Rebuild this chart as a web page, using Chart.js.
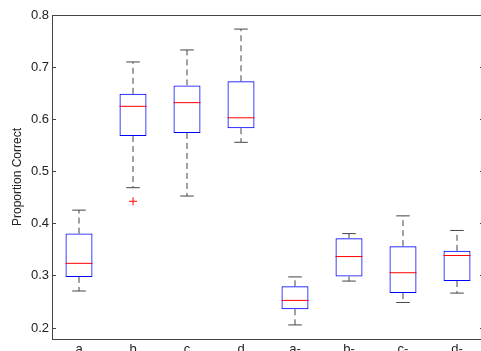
<!DOCTYPE html>
<html>
<head>
<meta charset="utf-8">
<script src="https://cdn.jsdelivr.net/npm/chart.js@4"></script>
<style>
  html, body { margin: 0; padding: 0; background: #fff; overflow: hidden; }
  #wrap { position: absolute; left: 0; top: 0; }
</style>
</head>
<body>
<div id="wrap"><canvas id="box" width="490" height="360"></canvas></div>
<script>
// values
let categories = ['a', 'b', 'c', 'd', 'a-', 'b-', 'c-', 'd-'];
let whiskerLow  = [0.271, 0.469, 0.453, 0.556, 0.206, 0.290, 0.249, 0.267];
let q1          = [0.298, 0.568, 0.574, 0.583, 0.236, 0.299, 0.267, 0.290];
let medians     = [0.324, 0.625, 0.632, 0.603, 0.253, 0.337, 0.306, 0.339];
let q3          = [0.381, 0.649, 0.665, 0.673, 0.280, 0.372, 0.357, 0.348];
let whiskerHigh = [0.426, 0.710, 0.733, 0.773, 0.298, 0.381, 0.415, 0.387];
let outlierCats = ['b'];
let outlierVals = [0.443];
let yTicks = [0.2, 0.3, 0.4, 0.5, 0.6, 0.7, 0.8];

const font = { family: "'Liberation Sans', Arial, sans-serif", size: 13 };
const whiskerColor = '#444';

let datasets = [];

// boxes as floating bars
datasets.push({
  type: 'bar',
  data: categories.map((c, i) => ({ x: i + 1, y: [q1[i], q3[i]] })),
  backgroundColor: 'rgba(0,0,0,0)',
  borderColor: '#0000ff',
  borderWidth: 1,
  borderSkipped: false,
  barPercentage: 0.5,
  categoryPercentage: 1.0,
  order: 2
});

function seg(points, color, dash) {
  datasets.push({
    type: 'line',
    data: points,
    borderColor: color,
    borderWidth: 1,
    borderDash: dash || [],
    pointRadius: 0,
    fill: false,
    order: 1
  });
}

categories.forEach((c, i) => {
  let x = i + 1;
  seg([{ x: x, y: q3[i] }, { x: x, y: whiskerHigh[i] }], whiskerColor, [6, 4]);
  seg([{ x: x, y: q1[i] }, { x: x, y: whiskerLow[i] }], whiskerColor, [6, 4]);
  seg([{ x: x - 0.125, y: whiskerHigh[i] }, { x: x + 0.125, y: whiskerHigh[i] }], whiskerColor);
  seg([{ x: x - 0.125, y: whiskerLow[i] }, { x: x + 0.125, y: whiskerLow[i] }], whiskerColor);
  seg([{ x: x - 0.25, y: medians[i] }, { x: x + 0.25, y: medians[i] }], '#ff0000');
});

datasets.push({
  type: 'scatter',
  data: outlierCats.map((c, i) => ({ x: categories.indexOf(c) + 1, y: outlierVals[i] })),
  pointStyle: 'cross',
  pointRadius: 4,
  borderColor: '#ff0000',
  borderWidth: 1,
  order: 0
});

const yMin = 0.179, yMax = 0.8;
const setTicks = scale => { scale.ticks = yTicks.map(v => ({ value: v })); };

new Chart(document.getElementById('box'), {
  type: 'bar',
  data: { datasets: datasets },
  options: {
    responsive: false,
    animation: false,
    layout: { padding: { left: 0, right: 6, top: 15, bottom: 0 } },
    plugins: { legend: { display: false }, tooltip: { enabled: false } },
    scales: {
      x: {
        type: 'linear',
        position: 'bottom',
        offset: false,
        min: 0.5,
        max: 8.5,
        afterBuildTicks: scale => { scale.ticks = categories.map((c, i) => ({ value: i + 1 })); },
        afterFit: scale => { scale.height = 21; },
        ticks: { callback: v => categories[v - 1], font: font, color: '#222', padding: 3, maxRotation: 0, autoSkip: false },
        grid: { display: false, drawTicks: false, offset: false },
        border: { display: true, color: '#444', width: 1 }
      },
      x2: {
        type: 'linear',
        position: 'top',
        offset: false,
        min: 0.5,
        max: 8.5,
        afterFit: scale => { scale.height = 0; },
        ticks: { display: false },
        grid: { display: false, drawTicks: false, offset: false },
        border: { display: true, color: '#444', width: 1 }
      },
      y: {
        position: 'left',
        min: yMin,
        max: yMax,
        afterBuildTicks: setTicks,
        afterFit: scale => { scale.width = 52; },
        ticks: { callback: v => v.toFixed(1), font: font, color: '#222', padding: 7 },
        grid: { display: true, drawOnChartArea: false, drawTicks: true, tickLength: -4, color: '#444' },
        border: { display: true, color: '#444', width: 1 },
        title: { display: true, text: 'Proportion Correct', font: { family: font.family, size: 12 }, color: '#222', padding: { top: 10, bottom: 0 } }
      },
      y2: {
        position: 'right',
        min: yMin,
        max: yMax,
        afterBuildTicks: setTicks,
        afterFit: scale => { scale.width = 0; },
        ticks: { display: false },
        grid: { display: true, drawOnChartArea: false, drawTicks: true, tickLength: -4, color: '#444' },
        border: { display: true, color: '#444', width: 1 }
      }
    }
  }
});
</script>
</body>
</html>
